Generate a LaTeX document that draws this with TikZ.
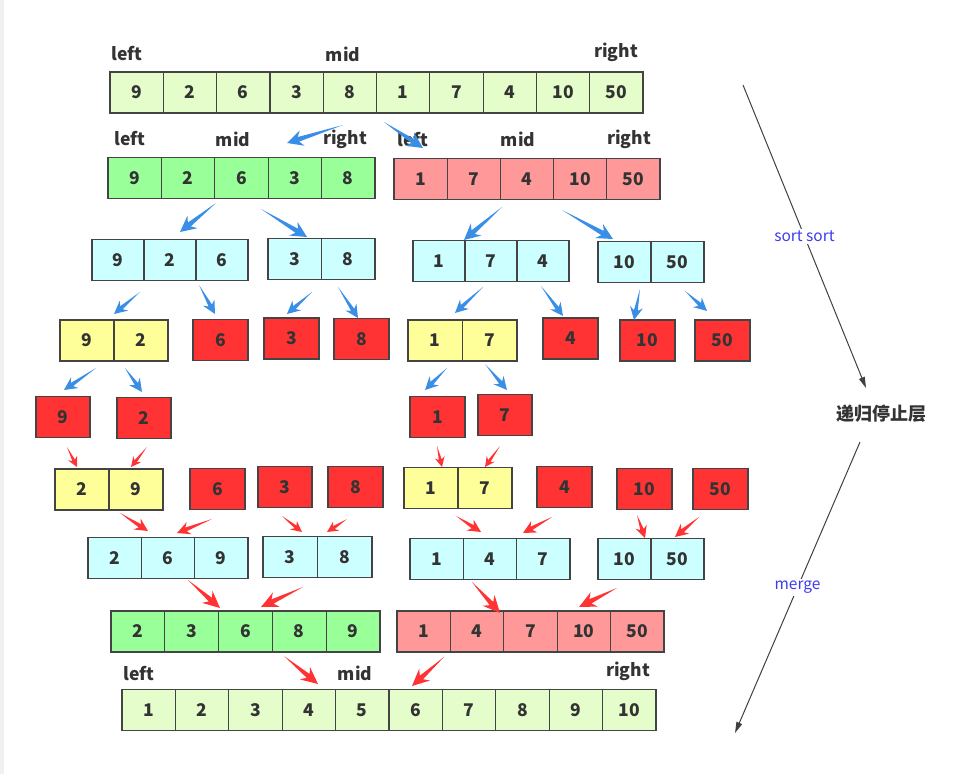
\documentclass[tikz,border=0pt]{standalone}
\usepackage{fontspec}
\setmainfont{Noto Sans CJK SC}
\usetikzlibrary{calc,arrows.meta}

\definecolor{lgreen}{HTML}{E4FDCA}
\definecolor{mgreen}{HTML}{99FF99}
\definecolor{pink}{HTML}{FF9999}
\definecolor{lcyan}{HTML}{CCFFFF}
\definecolor{lyellow}{HTML}{FFFF99}
\definecolor{bred}{HTML}{FF3333}
\definecolor{sblue}{HTML}{3A8EE6}
\definecolor{ink}{HTML}{333333}
\definecolor{edge}{HTML}{444444}
\definecolor{noteblue}{HTML}{3C3CF0}

\tikzset{
  cell/.style={draw=edge, line width=1.2pt, inner sep=0pt, minimum height=41pt,
    text=ink, font=\fontsize{17.5}{20}\selectfont\bfseries},
  tag/.style={text=ink, font=\fontsize{17.5}{20}\selectfont\bfseries},
  note/.style={text=noteblue, fill=white, inner sep=2pt, font=\fontsize{15.5}{18}\selectfont},
  flow/.style={draw=black!75, line width=1pt, -{Triangle[length=11pt,width=6pt]}}
}

% one row of boxes: name, left edge, y, fill, cell width, values
\newcommand{\cellrow}[6]{%
  \foreach \v [count=\i] in {#6} {
    \node[cell, fill=#4, minimum width=#5pt] (#1-\i) at ({#2+(\i-0.5)*#5}, #3) {\v};
  }
}

% tapered arrow: colour, head length, head half width, start, end
\newcommand{\taperarrow}[5]{%
  \pgfmathsetmacro\tanotch{0.75*#2}%
  \pgfmathsetmacro\tashaft{0.3*#3}%
  \coordinate (ta-h) at ($(#5)!#2pt!(#4)$);
  \coordinate (ta-n) at ($(#5)!\tanotch pt!(#4)$);
  \fill[#1] (#4) -- ($(ta-n)!\tashaft pt!90:(#5)$) -- ($(ta-h)!#3pt!90:(#5)$) -- (#5)
    -- ($(ta-h)!#3pt!-90:(#5)$) -- ($(ta-n)!\tashaft pt!-90:(#5)$) -- cycle;
}

\begin{document}
\begin{tikzpicture}[x=1pt, y=-1pt]
\useasboundingbox (0,0) rectangle (962,774);
\fill[black!6] (0,0) rectangle (4,774);
%----------------------------------------
% split
\cellrow{a}{110}{92.5}{lgreen}{53.3}{9,2,6,3,8,1,7,4,10,50}
\cellrow{b}{108}{178}{mgreen}{53.4}{9,2,6,3,8}
\cellrow{c}{394}{179}{pink}{53.2}{1,7,4,10,50}
\cellrow{d}{92}{260}{lcyan}{52}{9,2,6}
\cellrow{e}{268}{259}{lcyan}{53.5}{3,8}
\cellrow{f}{413}{261}{lcyan}{52}{1,7,4}
\cellrow{g}{598}{262}{lcyan}{53}{10,50}
\cellrow{h}{60}{340.5}{lyellow}{54}{9,2}
\cellrow{i}{193}{340}{bred}{55}{6}
\cellrow{j}{264}{338.5}{bred}{55}{3}
\cellrow{k}{334}{339}{bred}{55}{8}
\cellrow{l}{408}{340.5}{lyellow}{54.5}{1,7}
\cellrow{m}{543}{338.5}{bred}{55}{4}
\cellrow{n}{620}{340.5}{bred}{55}{10}
\cellrow{o}{695}{340.5}{bred}{55}{50}
\cellrow{p}{36}{417}{bred}{54}{9}
\cellrow{q}{117}{418}{bred}{54}{2}
\cellrow{r}{410}{417}{bred}{55}{1}
\cellrow{s}{478}{415}{bred}{54}{7}
%----------------------------------------
% merge
\cellrow{t}{55}{489.5}{lyellow}{54}{2,9}
\cellrow{u}{190}{489}{bred}{55}{6}
\cellrow{v}{258}{487}{bred}{54}{3}
\cellrow{w}{328}{487}{bred}{55}{8}
\cellrow{x}{404}{488}{lyellow}{54}{1,7}
\cellrow{y}{537}{487}{bred}{55}{4}
\cellrow{z}{617}{489}{bred}{55}{10}
\cellrow{za}{693}{489}{bred}{55}{50}
\cellrow{zb}{88}{558}{lcyan}{53.3}{2,6,9}
\cellrow{zc}{263}{557}{lcyan}{54.5}{3,8}
\cellrow{zd}{410}{559}{lcyan}{53.3}{1,4,7}
\cellrow{ze}{598}{559}{lcyan}{53}{10,50}
\cellrow{zf}{111}{631.5}{mgreen}{53.8}{2,3,6,8,9}
\cellrow{zg}{397}{631.5}{pink}{53.4}{1,4,7,10,50}
\cellrow{zh}{122}{710}{lgreen}{53.4}{1,2,3,4,5,6,7,8,9,10}
%----------------------------------------
\node[tag] (aleft) at (127,54) {left};
\node[tag] (amid) at (343,54) {mid};
\node[tag] (aright) at (616,52) {right};
\node[tag] (bleft) at (130,139) {left};
\node[tag] (bmid) at (233,139) {mid};
\node[tag] (bright) at (345,139) {right};
\node[tag] (cleft) at (413,140) {left};
\node[tag] (cmid) at (518,139) {mid};
\node[tag] (cright) at (629,139) {right};
\node[tag] (zleft) at (139,674) {left};
\node[tag] (zmid) at (355,673) {mid};
\node[tag] (zright) at (628,671) {right};
%----------------------------------------
\foreach \sx/\sy/\ex/\ey/\hl/\hw [count=\n] in {
  343/125/287/143/16/8, 384/122/423/148/16/8,
  216/203/180/232/16/8, 261/209/307/237/16/8,
  502/207/464/240/16/8, 562/210/613/239/16/8,
  140/292/114/314/13/6.5, 199/285/215/314/13/6.5,
  312/292/287/314/13/6.5, 338/287/358/318/13/6.5,
  483/287/455/313/13/6.5, 541/286/563/316/13/6.5,
  640/289/634/320/13/6.5, 685/291/707/311/13/6.5,
  96/368/64/390/13/6.5, 125/368/142/392/13/6.5,
  447/368/425/390/13/6.5, 485/364/507/390/13/6.5} {
  \coordinate (bs\n) at (\sx,\sy);
  \coordinate (be\n) at (\ex,\ey);
  \taperarrow{sblue}{\hl}{\hw}{bs\n}{be\n}
}
\foreach \sx/\sy/\ex/\ey/\hl/\hw [count=\n] in {
  67/447/77/467/10/5, 147/447/131/467/10/5,
  437/446/442/467/10/5, 500/446/485/467/10/5,
  120/513/148/531/13/6.5, 212/519/177/533/13/6.5,
  282/516/302/532/11/5.5, 347/519/327/532/11/5.5,
  456/516/481/532/13/6.5, 552/517/523/533/13/6.5,
  637/515/645/538/12/6, 699/517/675/537/13/6.5,
  188/580/220/608/17/8, 303/587/261/607/17/8,
  472/582/500/613/17/8, 617/588/579/607/17/8,
  284/656/318/684/17/8, 444/657/412/686/17/8} {
  \coordinate (rs\n) at (\sx,\sy);
  \coordinate (re\n) at (\ex,\ey);
  \taperarrow{bred}{\hl}{\hw}{rs\n}{re\n}
}
%----------------------------------------
\node[tag, font=\fontsize{18}{21}\selectfont\bfseries] (stop) at (881,414) {递归停止层};
\coordinate (sorttop) at (743,85);
\coordinate (sortend) at (866,388);
\coordinate (mergetop) at (860,442);
\coordinate (mergeend) at (735,733);
\draw[flow] (sorttop) -- node[note] {sort sort} (sortend);
\draw[flow] (mergetop) -- node[note] {merge} (mergeend);
\end{tikzpicture}
\end{document}
